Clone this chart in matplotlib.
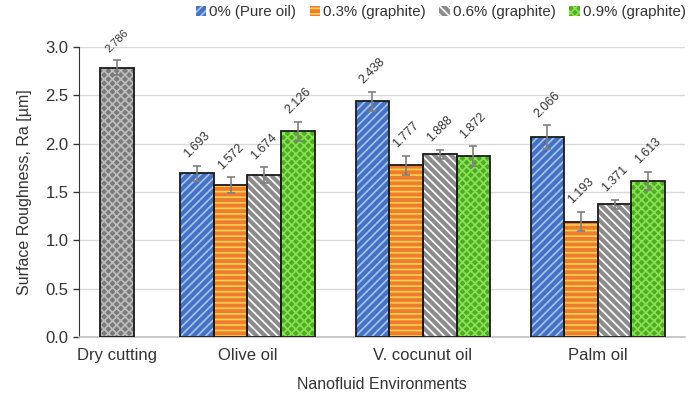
import numpy as np
import matplotlib.pyplot as plt
from matplotlib.patches import Patch

plt.rcParams['font.family'] = ['Liberation Sans', 'DejaVu Sans']
plt.rcParams['hatch.linewidth'] = 1.2

# surface roughness data
environments = ['Dry cutting', 'Olive oil', 'V. cocunut oil', 'Palm oil']
series = ['0% (Pure oil)', '0.3% (graphite)', '0.6% (graphite)', '0.9% (graphite)']
dry_ra = 2.786
dry_err = 0.08
oil_ra = {
    '0% (Pure oil)':   [1.693, 2.438, 2.066],
    '0.3% (graphite)': [1.572, 1.777, 1.193],
    '0.6% (graphite)': [1.674, 1.888, 1.371],
    '0.9% (graphite)': [2.126, 1.872, 1.613],
}
oil_err = {
    '0% (Pure oil)':   [0.075, 0.10, 0.125],
    '0.3% (graphite)': [0.08, 0.10, 0.10],
    '0.6% (graphite)': [0.08, 0.045, 0.045],
    '0.9% (graphite)': [0.10, 0.10, 0.095],
}

# fill colour, hatch colour, hatch pattern per series
styles = {
    '0% (Pure oil)':   ('#4472C4', '#A9C4EE', '////'),
    '0.3% (graphite)': ('#ED7D31', '#FFD24A', '---'),
    '0.6% (graphite)': ('#8C8C8C', '#FFFFFF', '\\\\\\\\'),
    '0.9% (graphite)': ('#4DAF1F', '#8EE05A', 'xxxx'),
}

centers = np.array([0.25, 1.112, 2.271, 3.426])
width = 0.222

fig = plt.figure(figsize=(6.91, 3.98), dpi=100)
ax = fig.add_axes([0.1143, 0.1533, 0.8767, 0.7286])


def hatched_bar(x, h, fc, hc, hatch, err, label_size=9):
    ax.bar(x, h, width, color=fc, linewidth=0, zorder=2)
    ax.bar(x, h, width, color='none', edgecolor=hc, hatch=hatch, linewidth=0, zorder=3)
    ax.bar(x, h, width, color='none', edgecolor='#1a1a1a', linewidth=1.3, zorder=4)
    ax.errorbar(x, h, yerr=err, fmt='none', ecolor='#7f7f7f', elinewidth=1.2,
                capsize=3, capthick=1.2, zorder=5)
    ax.annotate(f'{h:.3f}', (x, h + err), xytext=(0, 4), textcoords='offset points',
                rotation=45, ha='center', va='bottom', fontsize=label_size, color='#333333')


hatched_bar(centers[0], dry_ra, '#7A7A7A', '#BDBDBD', 'xxxx', dry_err, label_size=8)

for i, s in enumerate(series):
    fc, hc, hatch = styles[s]
    xs = centers[1:] + (i - 1.5) * width
    for x, h, e in zip(xs, oil_ra[s], oil_err[s]):
        hatched_bar(x, h, fc, hc, hatch, e)

ax.set_xlim(0, 4)
ax.set_ylim(0, 3.0)
ticks = np.arange(0, 3.01, 0.5)
ax.set_yticks(ticks)
ax.set_yticklabels([f'{v:.1f}' for v in ticks], fontsize=12, color='#333333')
ax.set_xticks(centers)
ax.set_xticklabels(environments, fontsize=12, color='#333333')
ax.tick_params(axis='x', length=0, pad=8)
ax.tick_params(axis='y', length=4, color='#333333', width=1)
ax.grid(axis='y', color='#d9d9d9', linewidth=1, zorder=0)
ax.set_axisbelow(True)
for side in ['top', 'right']:
    ax.spines[side].set_visible(False)
ax.spines['left'].set_color('#333333')
ax.spines['bottom'].set_color('#bfbfbf')
ax.spines['bottom'].set_linewidth(1.2)

ax.set_ylabel('Surface Roughness, Ra [µm]', fontsize=11.5, color='#333333', labelpad=10)
ax.set_xlabel('Nanofluid Environments', fontsize=11.5, color='#333333', labelpad=10)

handles = [Patch(facecolor=styles[s][0], edgecolor=styles[s][1], hatch=styles[s][2],
                 linewidth=0) for s in series]
fig.legend(handles, series, loc='upper left', bbox_to_anchor=(0.27, 1.01), ncol=4,
           frameon=False, fontsize=10.8, handlelength=0.7, handleheight=0.7,
           handletextpad=0.2, columnspacing=0.9, labelcolor='#333333',
           borderaxespad=0.2)

fig.savefig('out.png', dpi=100)
